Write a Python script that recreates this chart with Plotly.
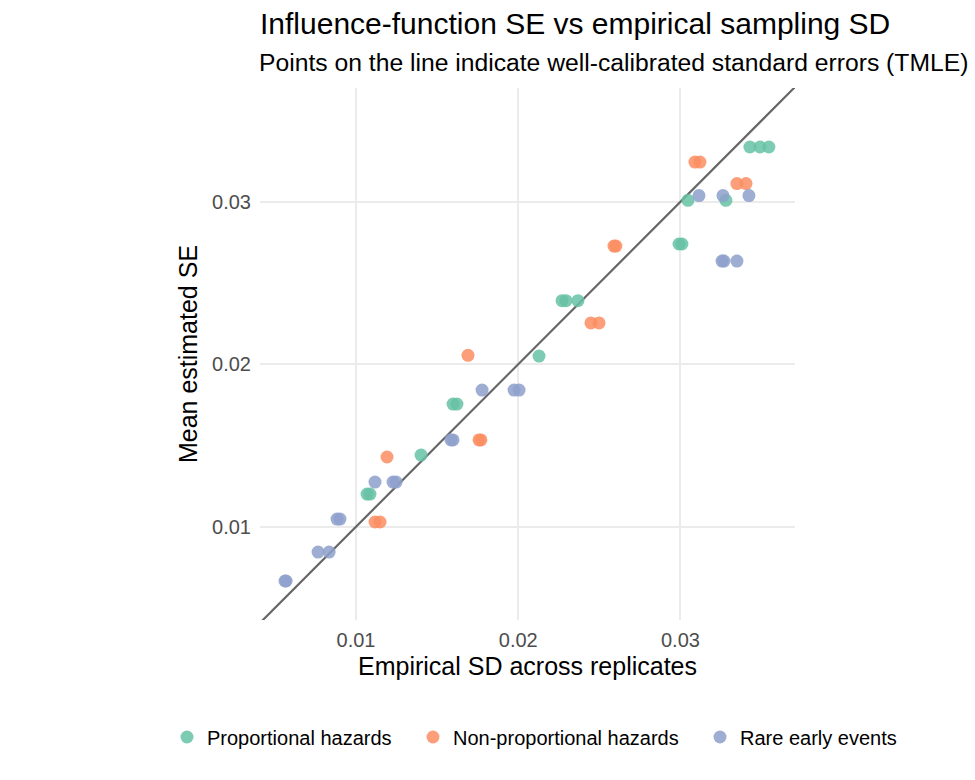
import plotly.graph_objects as go

# ---- data ----
ph_sd = [0.03428, 0.03490, 0.03545, 0.03046, 0.03280, 0.02991, 0.03009, 0.02270,
         0.02294, 0.02368, 0.02128, 0.01598, 0.01622, 0.01401, 0.01068, 0.01086]
ph_se = [0.03337, 0.03337, 0.03337, 0.03009, 0.03009, 0.02740, 0.02740, 0.02391,
         0.02391, 0.02391, 0.02050, 0.01755, 0.01755, 0.01441, 0.01201, 0.01201]

nph_sd = [0.03089, 0.03120, 0.03348, 0.03404, 0.02590, 0.02602, 0.02448, 0.02498,
          0.01690, 0.01758, 0.01770, 0.01191, 0.01117, 0.01148]
nph_se = [0.03244, 0.03244, 0.03112, 0.03112, 0.02727, 0.02727, 0.02254, 0.02254,
          0.02055, 0.01534, 0.01534, 0.01429, 0.01029, 0.01029]

rare_sd = [0.03114, 0.03262, 0.03422, 0.03256, 0.03268, 0.03348, 0.01777, 0.01974,
           0.02005, 0.01585, 0.01598, 0.01117, 0.01228, 0.01247, 0.00883, 0.00901,
           0.00766, 0.00834, 0.00562, 0.00569]
rare_se = [0.03038, 0.03038, 0.03038, 0.02635, 0.02635, 0.02635, 0.01841, 0.01841,
           0.01841, 0.01534, 0.01534, 0.01275, 0.01275, 0.01275, 0.01047, 0.01047,
           0.00844, 0.00844, 0.00666, 0.00666]

scenarios = ["Proportional hazards", "Non-proportional hazards", "Rare early events"]
colors = ["#66C2A5", "#FC8D62", "#8DA0CB"]
identity_line = [0.0, 0.05]
tick_vals = [0.01, 0.02, 0.03]
tick_text = ["0.01", "0.02", "0.03"]
x_range = [0.00408, 0.03706]
y_range = [0.00426, 0.03700]

FONT = "Liberation Sans, Arial, sans-serif"

fig = go.Figure()
fig.add_trace(go.Scatter(x=identity_line, y=identity_line, mode="lines",
                         line=dict(color="#666666", width=2.2), showlegend=False,
                         hoverinfo="skip"))

series = [(ph_sd, ph_se), (nph_sd, nph_se), (rare_sd, rare_se)]
legend_ids = ["legend", "legend2", "legend3"]
for (xs, ys), name, col, lg in zip(series, scenarios, colors, legend_ids):
    fig.add_trace(go.Scatter(x=xs, y=ys, mode="markers", name=name,
                             marker=dict(color=col, size=13, opacity=0.85,
                                         line=dict(width=0)),
                             legend=lg))

# legend positions (paper coords), plot area spans px 260..795 horizontally, 88..620 vertically
def px_to_paper_x(px):
    return (px - 260) / 535.0

def px_to_paper_y(py):
    return (620 - py) / 532.0

legend_left_px = [167, 413, 700]
common_leg = dict(orientation="h", yanchor="middle", xanchor="left",
                  font=dict(family=FONT, size=20, color="#000000"),
                  bgcolor="rgba(0,0,0,0)", borderwidth=0)

fig.update_layout(
    width=975, height=780,
    margin=dict(l=260, r=180, t=88, b=160),
    paper_bgcolor="white", plot_bgcolor="white",
    font=dict(family=FONT, color="#000000"),
    title=dict(text="Influence-function SE vs empirical sampling SD",
               x=0, xref="paper", xanchor="left",
               y=1 - 23 / 780, yref="container", yanchor="middle",
               font=dict(family=FONT, size=30, color="#000000")),
    annotations=[dict(text="Points on the line indicate well-calibrated standard errors (TMLE)",
                      x=0, xref="paper", xanchor="left", xshift=-3,
                      y=px_to_paper_y(63), yref="paper", yanchor="middle",
                      showarrow=False,
                      font=dict(family=FONT, size=24.7, color="#000000"))],
    legend=dict(x=px_to_paper_x(legend_left_px[0]), y=px_to_paper_y(737), **common_leg),
    legend2=dict(x=px_to_paper_x(legend_left_px[1]), y=px_to_paper_y(737), **common_leg),
    legend3=dict(x=px_to_paper_x(legend_left_px[2]), y=px_to_paper_y(737), **common_leg),
    xaxis=dict(range=x_range, tickvals=tick_vals, ticktext=tick_text,
               showgrid=True, gridcolor="#EBEBEB", gridwidth=2,
               zeroline=False, showline=False, ticks="",
               ticklabelstandoff=6,
               tickfont=dict(family=FONT, size=20, color="#4D4D4D"),
               title=dict(text="Empirical SD across replicates", standoff=7,
                          font=dict(family=FONT, size=25, color="#000000"))),
    yaxis=dict(range=y_range, tickvals=tick_vals, ticktext=tick_text,
               showgrid=True, gridcolor="#EBEBEB", gridwidth=2,
               zeroline=False, showline=False, ticks="",
               ticklabelstandoff=8,
               tickfont=dict(family=FONT, size=20, color="#4D4D4D"),
               title=dict(text="Mean estimated SE", standoff=7,
                          font=dict(family=FONT, size=25, color="#000000"))),
)

fig.write_html("out.html")
